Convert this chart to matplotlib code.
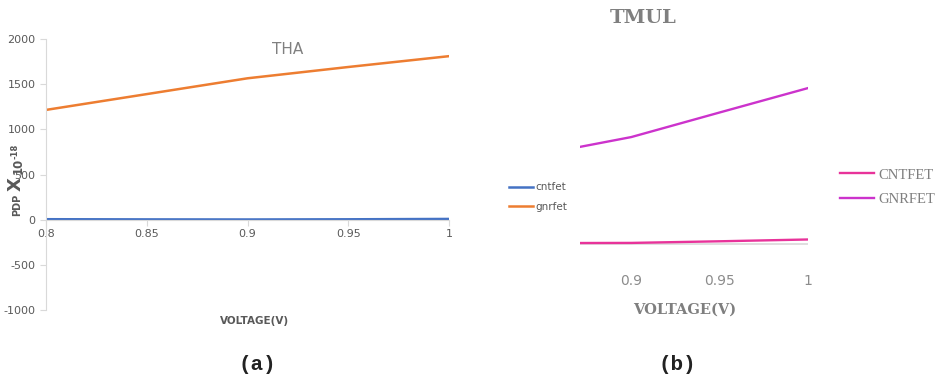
import matplotlib
matplotlib.use("Agg")
import matplotlib.pyplot as plt

plt.rcParams["axes.unicode_minus"] = False

W, H = 938, 377

# THA data
voltage = [0.8, 0.85, 0.9, 0.95, 1.0]
tha_cntfet = [5, 3, 2, 4, 8]
tha_gnrfet = [1215, 1390, 1565, 1690, 1810]

# TMUL data
tmul_cntfet = [10, 10, 12, 30, 50]
tmul_gnrfet = [808, 996, 1183, 1455, 1725]

x_ticks_a = [0.8, 0.85, 0.9, 0.95, 1]
x_labels_a = ["0.8", "0.85", "0.9", "0.95", "1"]
y_ticks_a = [-1000, -500, 0, 500, 1000, 1500, 2000]
x_ticks_b = [0.9, 0.95, 1]
x_labels_b = ["0.9", "0.95", "1"]

GRAY = "#595959"
AXIS = "#d9d9d9"


def fx(px):
    return px / W


def fy(py):
    return 1 - py / H


fig = plt.figure(figsize=(W / 100, H / 100), dpi=100)

# ---- (a) THA ----
ax1 = fig.add_axes([fx(46), fy(310), fx(449) - fx(46), fy(39) - fy(310)])
ax1.plot(voltage, tha_cntfet, color="#4472c4", lw=1.8, label="cntfet")
ax1.plot(voltage, tha_gnrfet, color="#ed7d31", lw=1.8, label="gnrfet")
ax1.set_xlim(0.8, 1.0)
ax1.set_ylim(-1000, 2000)
ax1.set_xticks(x_ticks_a, x_labels_a)
ax1.set_yticks(y_ticks_a)
for s in ["top", "right"]:
    ax1.spines[s].set_visible(False)
ax1.spines["left"].set_color(AXIS)
ax1.spines["bottom"].set_color(AXIS)
ax1.spines["bottom"].set_position(("data", 0))
ax1.tick_params(axis="both", colors=AXIS, labelcolor=GRAY, labelsize=8, length=4)
ax1.tick_params(axis="x", pad=3)
ax1.text(0.92, 1880, "THA", color="#808080", fontsize=11, ha="center", va="center")
ax1.legend(loc="center left", bbox_to_anchor=(fx(500), fy(197)),
           bbox_transform=fig.transFigure, frameon=False, fontsize=7.5,
           labelcolor=GRAY, handlelength=2.3, handletextpad=0.2, labelspacing=0.9)

# y label built from pieces, rotated
fig.text(fx(17.5), fy(205), "PDP", rotation=90, fontsize=7, fontweight="bold",
         color=GRAY, ha="center", va="center")
fig.text(fx(16), fy(184), "X", rotation=90, fontsize=13, fontweight="bold",
         color=GRAY, ha="center", va="center")
fig.text(fx(18), fy(166), "10", rotation=90, fontsize=8.5, fontweight="bold",
         color=GRAY, ha="center", va="center")
fig.text(fx(14.5), fy(151), "-18", rotation=90, fontsize=6, fontweight="bold",
         color=GRAY, ha="center", va="center")
fig.text(fx(255), fy(321), "VOLTAGE(V)", fontsize=7.5, fontweight="bold",
         color=GRAY, ha="center", va="center")

# ---- (b) TMUL ----
x0b = 0.871
ax2 = fig.add_axes([fx(580), fy(260), fx(808) - fx(580), fy(70) - fy(260)])
ax2.axhline(0, color=AXIS, lw=1.2, zorder=1)
ax2.plot(voltage, tmul_cntfet, color="#e8339a", lw=1.7, label="CNTFET", zorder=3)
ax2.plot(voltage, tmul_gnrfet, color="#cc33cc", lw=1.7, label="GNRFET", zorder=3)
ax2.set_xlim(x0b, 1.0)
ax2.set_ylim(-177, 1925)
ax2.set_xticks(x_ticks_b, x_labels_b)
ax2.set_yticks([])
for s in ax2.spines.values():
    s.set_visible(False)
ax2.tick_params(axis="x", length=0, pad=10, labelsize=10, labelcolor="#8c8c8c")
fig.text(fx(643), fy(18), "TMUL", fontsize=14, fontweight="bold", family="DejaVu Serif",
         color="#7f7f7f", ha="center", va="center")
fig.text(fx(685), fy(310), "VOLTAGE(V)", fontsize=10.5, fontweight="bold",
         family="DejaVu Serif", color="#7f7f7f", ha="center", va="center")
ax2.legend(loc="center left", bbox_to_anchor=(fx(827), fy(187)),
           bbox_transform=fig.transFigure, frameon=False,
           prop={"family": "Liberation Serif", "size": 10.5}, labelcolor="#7f7f7f",
           handlelength=2.3, handletextpad=0.3, labelspacing=0.75)

# captions
fig.text(fx(257), fy(365), "(a)", fontsize=15, fontweight="bold",
         family="Liberation Mono", color="#222222", ha="center", va="center")
fig.text(fx(677), fy(365), "(b)", fontsize=15, fontweight="bold",
         family="Liberation Mono", color="#222222", ha="center", va="center")

fig.savefig("out.png", dpi=100, facecolor="white")
